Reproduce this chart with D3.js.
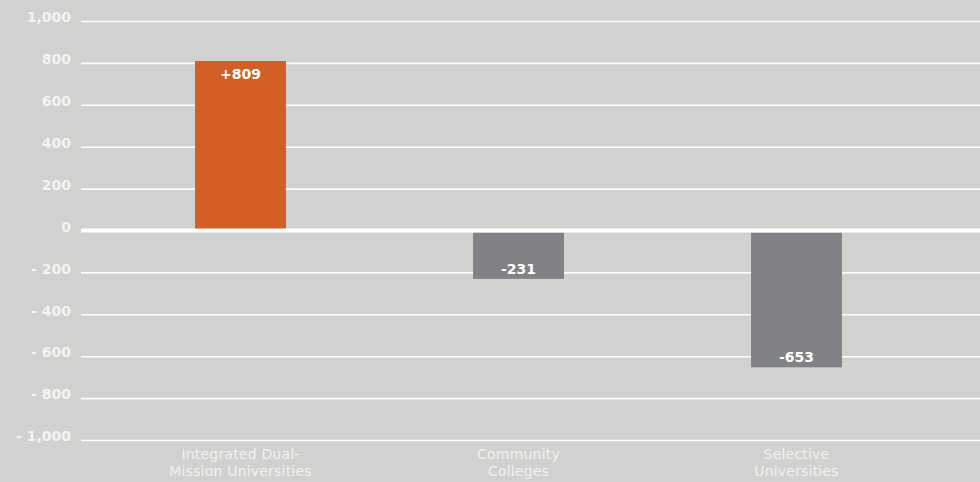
<!DOCTYPE html>
<html>
<head>
<meta charset="utf-8">
<script src="https://cdn.jsdelivr.net/npm/d3@7"></script>
<style>
  html, body { margin: 0; padding: 0; background: #d1d1cf; }
  svg { display: block; }
  text { font-family: "DejaVu Sans", "Noto Sans", sans-serif; }
</style>
</head>
<body>
<svg id="chart" width="980" height="482"></svg>
<script>
// Net change by institution type
const categories = [["Integrated Dual-", "Mission Universities"], ["Community", "Colleges"], ["Selective", "Universities"]];
const values = [809, -231, -653];
const valueLabels = ["+809", "-231", "-653"];
const tickValues = [1000, 800, 600, 400, 200, 0, -200, -400, -600, -800, -1000];
const tickLabels = ["1,000", "800", "600", "400", "200", "0", "- 200", "- 400", "- 600", "- 800", "- 1,000"];

const W = 980, H = 482;
const plotLeft = 81, plotRight = 980;
const svg = d3.select("#chart");

svg.append("rect").attr("width", W).attr("height", H).attr("fill", "#d1d1cf");

const y = d3.scaleLinear().domain([-1000, 1000]).range([440, 21]);
const x = d3.scaleBand()
  .domain(d3.range(categories.length))
  .range([101.5, 935.5])
  .paddingInner(0.673)
  .paddingOuter(0.3365);

// Gridlines and tick labels via a left axis
const axis = d3.axisLeft(y)
  .tickValues(tickValues)
  .tickSize(-(plotRight - plotLeft))
  .tickPadding(10)
  .tickFormat(d => tickLabels[tickValues.indexOf(d)]);

const gAxis = svg.append("g")
  .attr("transform", `translate(${plotLeft},0)`)
  .call(axis);
gAxis.select(".domain").remove();
gAxis.selectAll(".tick line")
  .attr("stroke", "#ffffff")
  .attr("stroke-width", 1.6)
  .attr("stroke-opacity", d => d === 0 ? 0 : 0.95);
gAxis.selectAll(".tick text")
  .attr("fill", "#f4f4f3")
  .attr("font-size", 14)
  .attr("font-weight", 700)
  .attr("dy", "0.05em")
  .attr("x", -10);

const colors = ["#d35f27", "#818285", "#818285"];

// Bars
svg.append("g").selectAll("rect")
  .data(values)
  .join("rect")
  .attr("x", (d, i) => x(i))
  .attr("width", x.bandwidth())
  .attr("y", d => d >= 0 ? y(d) : y(0) + 2)
  .attr("height", d => d >= 0 ? y(0) - y(d) : y(d) - y(0) - 2)
  .attr("fill", (d, i) => colors[i]);

// Zero baseline drawn over the bars
svg.append("line")
  .attr("x1", plotLeft).attr("x2", plotRight)
  .attr("y1", y(0)).attr("y2", y(0))
  .attr("stroke", "#ffffff")
  .attr("stroke-width", 4);

// Value labels inside the bars
svg.append("g").selectAll("text")
  .data(values)
  .join("text")
  .attr("x", (d, i) => x(i) + x.bandwidth() / 2)
  .attr("y", d => d >= 0 ? y(d) + 17.5 : y(d) - 5)
  .attr("text-anchor", "middle")
  .attr("fill", "#ffffff")
  .attr("font-size", 14)
  .attr("font-weight", 700)
  .text((d, i) => valueLabels[i]);

// Category labels
const cat = svg.append("g").selectAll("text")
  .data(categories)
  .join("text")
  .attr("x", (d, i) => x(i) + x.bandwidth() / 2)
  .attr("y", 459)
  .attr("text-anchor", "middle")
  .attr("fill", "#f1f1f0")
  .attr("font-size", 14)
  .attr("font-weight", 400)
  .attr("letter-spacing", 0.2);
cat.selectAll("tspan")
  .data(d => d)
  .join("tspan")
  .attr("x", function () { return d3.select(this.parentNode).attr("x"); })
  .attr("dy", (d, i) => i === 0 ? 0 : 16.7)
  .text(d => d);
</script>
</body>
</html>
